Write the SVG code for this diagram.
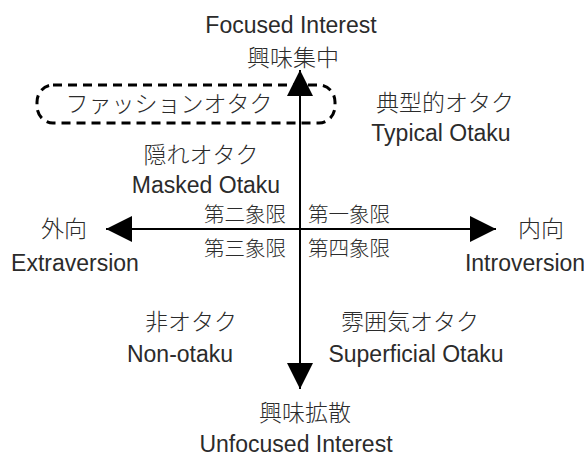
<svg xmlns="http://www.w3.org/2000/svg" width="584" height="463" viewBox="0 0 584 463">
<style>
text{font-family:"Liberation Sans","Noto Sans CJK JP",sans-serif;fill:#2b2b2b;}
.big{font-size:23px;}
.jp{font-family:"Noto Sans CJK JP","Liberation Sans",sans-serif;font-size:23px;font-weight:300;}
.q{font-family:"Noto Sans CJK JP","Liberation Sans",sans-serif;font-size:20.5px;font-weight:300;}
.axis{stroke:#000;stroke-width:2;fill:none;}
.dash{stroke:#000;stroke-width:3;fill:none;stroke-dasharray:9 6;}
</style>
<defs>
<marker id="tri" markerUnits="userSpaceOnUse" markerWidth="26" markerHeight="26" refX="26" refY="13" orient="auto-start-reverse" viewBox="0 0 26 26">
<path d="M0,0 L26,13 L0,26 Z" fill="#000"/>
</marker>
</defs>
<g id="connectors">
<line class="axis" x1="300" y1="70" x2="300" y2="389" marker-start="url(#tri)" marker-end="url(#tri)"/>
<line class="axis" x1="106" y1="229" x2="496" y2="229" marker-start="url(#tri)" marker-end="url(#tri)"/>
</g>
<g id="top-label">
<text class="big" x="291" y="33" text-anchor="middle">Focused Interest</text>
<text class="jp" x="293" y="66" text-anchor="middle">興味集中</text>
</g>
<g id="bottom-label">
<text class="jp" x="305" y="421" text-anchor="middle">興味拡散</text>
<text class="big" x="296" y="452" text-anchor="middle">Unfocused Interest</text>
</g>
<g id="left-label">
<text class="jp" x="64" y="237" text-anchor="middle">外向</text>
<text class="big" x="75" y="271" text-anchor="middle">Extraversion</text>
</g>
<g id="right-label">
<text class="jp" x="541" y="237" text-anchor="middle">内向</text>
<text class="big" x="525" y="271" text-anchor="middle">Introversion</text>
</g>
<g id="fashion-otaku">
<rect class="dash" x="37" y="85" width="298" height="38" rx="16" ry="17"/>
<text class="jp" x="169" y="112" text-anchor="middle" letter-spacing="0">ファッションオタク</text>
</g>
<g id="typical-otaku">
<text class="jp" x="445" y="111" text-anchor="middle">典型的オタク</text>
<text class="big" x="441" y="141" text-anchor="middle">Typical Otaku</text>
</g>
<g id="masked-otaku">
<text class="jp" x="201" y="163" text-anchor="middle">隠れオタク</text>
<text class="big" x="206" y="193" text-anchor="middle">Masked Otaku</text>
</g>
<g id="non-otaku">
<text class="jp" x="191" y="330" text-anchor="middle">非オタク</text>
<text class="big" x="180" y="362" text-anchor="middle">Non-otaku</text>
</g>
<g id="superficial-otaku">
<text class="jp" x="410" y="330" text-anchor="middle">雰囲気オタク</text>
<text class="big" x="416" y="362" text-anchor="middle">Superficial Otaku</text>
</g>
<g id="quadrants">
<text class="q" x="286" y="222" text-anchor="end">第二象限</text>
<text class="q" x="308" y="222">第一象限</text>
<text class="q" x="286" y="256" text-anchor="end">第三象限</text>
<text class="q" x="308" y="256">第四象限</text>
</g>
</svg>
